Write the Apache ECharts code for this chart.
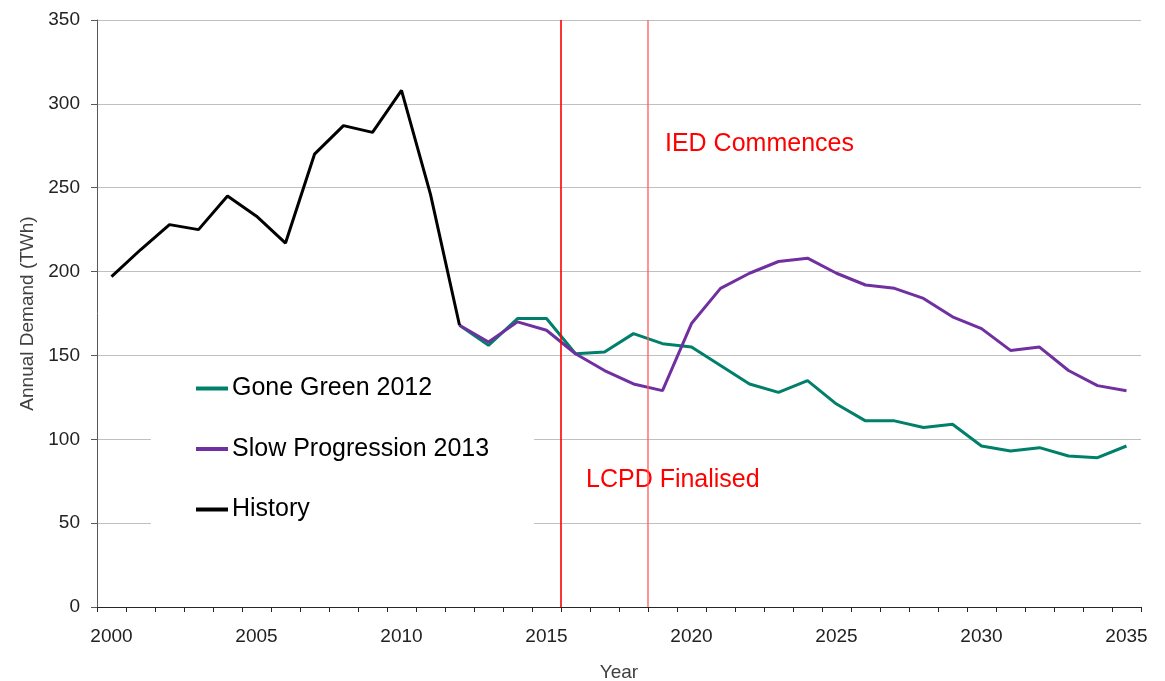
<!DOCTYPE html>
<html>
<head>
<meta charset="utf-8">
<script src="https://cdn.jsdelivr.net/npm/echarts@6/dist/echarts.min.js"></script>
<style>
  html, body { margin: 0; padding: 0; background: #fff; }
  #main { width: 1165px; height: 681px; }
</style>
</head>
<body>
<div id="main"></div>
<script>
var years = [];
for (var y = 2000; y <= 2035; y++) years.push(String(y));

// annual demand, TWh
var histDemand = [197, 213, 228, 225, 245, 233, 217, 270, 287, 283, 308, 246, 168];
var goneGreen = [168, 156, 172, 172, 151, 152, 163, 157, 155, 144, 133, 128, 135,
                 121, 111, 111, 107, 109, 96, 93, 95, 90, 89, 96];
var slowProg = [168, 158, 170, 165, 151, 141, 133, 129, 169, 190, 199, 206, 208,
                199, 192, 190, 184, 173, 166, 153, 155, 141, 132, 129];
var firstScenarioYear = 2012;

// event lines sit between the year columns
var events = [
    { name: 'LCPD Finalised', pos: 15.5, color: '#ff0000', width: 1.6 },
    { name: 'IED Commences', pos: 18.5, color: '#ff5a5a', width: 1.3 }
];

function padTo(arr, offset) {
    var out = [];
    for (var i = 0; i < years.length; i++) {
        var v = arr[i - offset];
        out.push(v === undefined ? null : v);
    }
    return out;
}

var off = firstScenarioYear - 2000;
var font = 'Liberation Sans, Arial, sans-serif';

var myChart = echarts.init(document.getElementById('main'));

var series = [
    {
        name: 'Gone Green 2012',
        type: 'line',
        data: padTo(goneGreen, off),
        symbol: 'none',
        color: '#00806a',
        lineStyle: { width: 3, color: '#00806a' },
        z: 3
    },
    {
        name: 'Slow Progression 2013',
        type: 'line',
        data: padTo(slowProg, off),
        symbol: 'none',
        color: '#7030a0',
        lineStyle: { width: 3, color: '#7030a0' },
        z: 4
    },
    {
        name: 'History',
        type: 'line',
        data: padTo(histDemand, 0),
        symbol: 'none',
        color: '#000',
        lineStyle: { width: 3, color: '#000' },
        z: 5
    }
];

// vertical event lines on a hidden value axis matching the category slots
events.forEach(function (ev) {
    series.push({
        name: ev.name,
        type: 'line',
        xAxisIndex: 1,
        data: [[ev.pos, 0], [ev.pos, 350]],
        symbol: 'none',
        silent: true,
        color: ev.color,
        lineStyle: { width: ev.width, color: ev.color },
        z: 6
    });
});

var option = {
    backgroundColor: '#fff',
    animation: false,
    textStyle: { fontFamily: font },
    grid: { left: 97, right: 24, top: 20, bottom: 74, containLabel: false, outerBoundsMode: 'none' },
    legend: {
        orient: 'vertical',
        left: 151,
        top: 366,
        padding: [10, 45, 40, 45],
        backgroundColor: '#fff',
        itemGap: 35.5,
        itemWidth: 32,
        itemHeight: 4,
        icon: 'rect',
        textStyle: { fontSize: 25, color: '#000', fontFamily: font, padding: [0, 0, 0, -1] },
        data: ['Gone Green 2012', 'Slow Progression 2013', 'History']
    },
    xAxis: [{
        type: 'category',
        data: years,
        boundaryGap: true,
        name: 'Year',
        nameLocation: 'middle',
        nameGap: 56,
        nameTextStyle: { fontSize: 19, color: '#404040' },
        axisLine: { onZero: false, lineStyle: { color: '#262626', width: 1 } },
        axisTick: { show: true, interval: 0, length: 5, lineStyle: { color: '#262626' } },
        axisLabel: { interval: 4, margin: 20, fontSize: 19, color: '#222' },
        splitLine: { show: false }
    }, {
        type: 'value',
        min: -0.5,
        max: 35.5,
        show: false
    }],
    yAxis: {
        type: 'value',
        min: 0,
        max: 350,
        interval: 50,
        name: 'Annual Demand (TWh)',
        nameLocation: 'middle',
        nameGap: 60,
        nameTextStyle: { fontSize: 19, color: '#404040' },
        axisLine: { show: true, onZero: false, lineStyle: { color: '#595959', width: 1 } },
        axisTick: { show: true, length: 6, lineStyle: { color: '#595959' } },
        axisLabel: { margin: 17, fontSize: 19, color: '#222' },
        splitLine: { lineStyle: { color: '#c0c0c0', width: 1 } }
    },
    series: series,
    graphic: [
        {
            type: 'text', left: 665, top: 132, z: 1,
            style: { text: events[1].name, fontSize: 25, fill: '#ff0000', fontFamily: font }
        },
        {
            type: 'text', left: 586, top: 468, z: 1,
            style: { text: events[0].name, fontSize: 25, fill: '#ff0000', fontFamily: font }
        }
    ]
};

myChart.setOption(option);
</script>
</body>
</html>
